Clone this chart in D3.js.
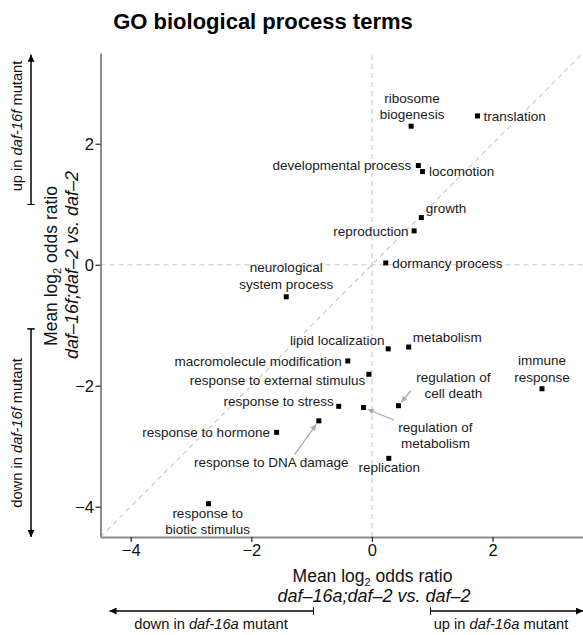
<!DOCTYPE html>
<html>
<head>
<meta charset="utf-8">
<script src="https://d3js.org/d3.v7.min.js"></script>
<style>
  body { margin: 0; background: #fff; }
  svg { font-family: "Liberation Sans", Arial, Helvetica, sans-serif; }
</style>
</head>
<body>
<div id="chart"><svg></svg></div>
<script>
'use strict';

// GO terms and mean log2 odds ratios
var terms = [
  'ribosome biogenesis', 'translation', 'developmental process', 'locomotion',
  'growth', 'reproduction', 'dormancy process', 'neurological system process',
  'lipid localization', 'metabolism', 'macromolecule modification',
  'response to external stimulus', 'immune response', 'response to stress',
  'regulation of metabolism', 'regulation of cell death', 'response to DNA damage',
  'response to hormone', 'replication', 'response to biotic stimulus'
];
// daf-16a;daf-2 vs. daf-2 (x)
var daf16a = [0.65, 1.75, 0.77, 0.84, 0.82, 0.70, 0.23, -1.42, 0.27, 0.61, -0.40,
  -0.05, 2.82, -0.55, -0.14, 0.44, -0.88, -1.58, 0.28, -2.71];
// daf-16f;daf-2 vs. daf-2 (y)
var daf16f = [2.29, 2.46, 1.64, 1.54, 0.78, 0.56, 0.03, -0.53, -1.39, -1.36, -1.59,
  -1.81, -2.05, -2.34, -2.36, -2.33, -2.58, -2.77, -3.20, -3.95];
var tickValues = [-4, -2, 0, 2];

// label placement (pixel offsets from the point, first baseline)
var labelLayout = {
  'ribosome biogenesis': { lines: ['ribosome', 'biogenesis'], anchor: 'middle', dx: 1, dy: -23.5 },
  'translation': { anchor: 'start', dx: 6, dy: 4.9 },
  'developmental process': { anchor: 'end', dx: -7, dy: 4.9 },
  'locomotion': { anchor: 'start', dx: 6.5, dy: 4.9 },
  'growth': { anchor: 'start', dx: 4.4, dy: -5 },
  'reproduction': { anchor: 'end', dx: -5.7, dy: 5.2 },
  'dormancy process': { anchor: 'start', dx: 6.5, dy: 4.9 },
  'neurological system process': { lines: ['neurological', 'system process'], anchor: 'middle', dx: 0, dy: -25 },
  'lipid localization': { anchor: 'end', dx: -3.7, dy: -3.4 },
  'metabolism': { anchor: 'start', dx: 4, dy: -4.7 },
  'macromolecule modification': { anchor: 'end', dx: -6, dy: 4.9 },
  'response to external stimulus': { anchor: 'end', dx: -3.6, dy: 10.6 },
  'immune response': { lines: ['immune', 'response'], anchor: 'middle', dx: 0, dy: -23.7 },
  'response to stress': { anchor: 'end', dx: -5, dy: -0.8 },
  'regulation of metabolism': { lines: ['regulation of', 'metabolism'], anchor: 'middle', dx: 72, dy: 24.2,
    arrow: [30.7, 12.7] },
  'regulation of cell death': { lines: ['regulation of', 'cell death'], anchor: 'middle', dx: 55, dy: -24.1,
    arrow: [12.4, -15] },
  'response to DNA damage': { anchor: 'middle', dx: -47.5, dy: 46.3, arrow: [-24.3, 33.7] },
  'response to hormone': { anchor: 'end', dx: -6.7, dy: 4.9 },
  'replication': { anchor: 'middle', dx: 0.4, dy: 13.5 },
  'response to biotic stimulus': { lines: ['response to', 'biotic stimulus'], anchor: 'middle', dx: -0.8, dy: 13.9 }
};

var width = 583;
var height = 635;
var xRange = [100.5, 583];
var yRange = [537, 53];
var lineH = 16.7;

var svg = d3.select('#chart').select('svg')
  .attr('width', width)
  .attr('height', height);

var x = d3.scaleLinear().domain([-4.5, 3.5]).range(xRange);
var y = d3.scaleLinear().domain([-4.5, 3.5]).range(yRange);

var defs = svg.append('defs');
function head(id, color, len, wid) {
  defs.append('marker')
    .attr('id', id)
    .attr('viewBox', '0 0 10 10')
    .attr('refX', 10).attr('refY', 5)
    .attr('markerUnits', 'userSpaceOnUse')
    .attr('markerWidth', len).attr('markerHeight', wid)
    .attr('orient', 'auto')
    .append('path').attr('d', 'M0,0L10,5L0,10Z').attr('fill', color);
}
head('headBlack', '#000', 9, 7);
head('headGrey', '#aaa', 8, 6);
defs.append('marker')
  .attr('id', 'bar')
  .attr('viewBox', '0 0 2 10')
  .attr('refX', 1).attr('refY', 5)
  .attr('markerUnits', 'userSpaceOnUse')
  .attr('markerWidth', 1.5).attr('markerHeight', 8)
  .attr('orient', 'auto')
  .append('rect').attr('width', 2).attr('height', 10).attr('fill', '#000');

// title
svg.append('text')
  .attr('x', 263).attr('y', 29)
  .attr('text-anchor', 'middle')
  .style('font-size', '22px').style('font-weight', 'bold')
  .text('GO biological process terms');

// reference lines
var refs = svg.append('g').attr('class', 'refs')
  .style('stroke', '#c8c8c8').style('stroke-dasharray', '5,4').style('stroke-width', 1.1);
refs.append('line').attr('x1', x(0)).attr('x2', x(0)).attr('y1', y(-4.5)).attr('y2', y(3.5));
refs.append('line').attr('x1', x(-4.5)).attr('x2', x(3.5)).attr('y1', y(0)).attr('y2', y(0));
refs.append('line').attr('x1', x(-4.5)).attr('x2', x(3.5)).attr('y1', y(-4.5)).attr('y2', y(3.5));

// axes
var fmt = function (d) { return d < 0 ? '\u2212' + Math.abs(d) : d; };
var xAxis = svg.append('g')
  .attr('transform', 'translate(0,' + yRange[0] + ')')
  .call(d3.axisBottom(x).tickValues(tickValues).tickSize(5).tickSizeOuter(0).tickPadding(2.5).tickFormat(fmt));
var yAxis = svg.append('g')
  .attr('transform', 'translate(' + xRange[0] + ',0)')
  .call(d3.axisLeft(y).tickValues(tickValues).tickSize(5).tickSizeOuter(0).tickPadding(1.5).tickFormat(fmt));
[xAxis, yAxis].forEach(function (a) {
  a.select('.domain').attr('stroke', '#8c8c8c').attr('stroke-width', 2);
  a.selectAll('.tick line').attr('stroke', '#333').attr('stroke-width', 1.3);
  a.selectAll('.tick text').attr('fill', '#111').style('font-size', '16.5px').style('font-family', null);
  a.attr('font-family', null).attr('font-size', null);
});

// axis titles
function logTitle(sel) {
  sel.append('tspan').text('Mean log');
  sel.append('tspan').attr('dy', 4).style('font-size', '11px').text('2');
  sel.append('tspan').attr('dy', -4).text(' odds ratio');
}
var xt = svg.append('text').attr('x', 372.5).attr('y', 581.5)
  .attr('text-anchor', 'middle').style('font-size', '17.5px').attr('fill', '#111');
logTitle(xt);
svg.append('text').attr('x', 374).attr('y', 602)
  .attr('text-anchor', 'middle').style('font-size', '18px').style('font-style', 'italic').attr('fill', '#111')
  .text('daf\u201316a;daf\u20132 vs. daf\u20132');

var yt = svg.append('text').attr('transform', 'translate(56.5,266) rotate(-90)')
  .attr('text-anchor', 'middle').style('font-size', '17.5px').attr('fill', '#111');
logTitle(yt);
svg.append('text').attr('transform', 'translate(78,265) rotate(-90)')
  .attr('text-anchor', 'middle').style('font-size', '18px').style('font-style', 'italic').attr('fill', '#111')
  .text('daf\u201316f;daf\u20132 vs. daf\u20132');

// direction arrows
var dirArrows = [
  { from: [x(-0.97), 611], to: [x(-4.35), 611], label: ['down in ', 'daf-16a', ' mutant'], at: [211, 629], rot: 0 },
  { from: [x(0.97), 611], to: [x(3.5), 611], label: ['up in ', 'daf-16a', ' mutant'], at: [501, 629], rot: 0 },
  { from: [31, y(1.0)], to: [31, y(3.47)], label: ['up in ', 'daf-16f', ' mutant'], at: [22, 126], rot: -90 },
  { from: [31, y(-1.06)], to: [31, y(-4.5)], label: ['down in ', 'daf-16f', ' mutant'], at: [22, 433], rot: -90 }
];
dirArrows.forEach(function (a) {
  svg.append('line')
    .attr('x1', a.from[0]).attr('y1', a.from[1]).attr('x2', a.to[0]).attr('y2', a.to[1])
    .attr('stroke', '#000').attr('stroke-width', 1.5)
    .attr('marker-start', 'url(#bar)').attr('marker-end', 'url(#headBlack)');
  var t = svg.append('text')
    .attr('transform', 'translate(' + a.at[0] + ',' + a.at[1] + ') rotate(' + a.rot + ')')
    .attr('text-anchor', 'middle').style('font-size', '14.7px').attr('fill', '#111');
  a.label.forEach(function (s, i) {
    t.append('tspan').style('font-style', i === 1 ? 'italic' : null).text(s);
  });
});

// points
var data = terms.map(function (t, i) { return { term: t, x: daf16a[i], y: daf16f[i] }; });

var pointer = svg.append('g').attr('class', 'pointers');
data.forEach(function (d) {
  var l = labelLayout[d.term];
  if (!l.arrow) return;
  var px = x(d.x), py = y(d.y);
  var ax = l.arrow[0], ay = l.arrow[1];
  var len = Math.sqrt(ax * ax + ay * ay);
  pointer.append('line')
    .attr('x1', px + ax).attr('y1', py + ay)
    .attr('x2', px + ax / len * 4.5).attr('y2', py + ay / len * 4.5)
    .attr('stroke', '#aaa').attr('stroke-width', 1.3)
    .attr('marker-end', 'url(#headGrey)');
});

svg.append('g').attr('class', 'points')
  .selectAll('rect').data(data).enter().append('rect')
  .attr('x', function (d) { return x(d.x) - 2.5; })
  .attr('y', function (d) { return y(d.y) - 2.5; })
  .attr('width', 5).attr('height', 5)
  .attr('fill', '#000');

var labels = svg.append('g').attr('class', 'labels')
  .selectAll('text').data(data).enter().append('text')
  .attr('text-anchor', function (d) { return labelLayout[d.term].anchor; })
  .style('font-size', '13.5px')
  .attr('fill', '#1a1a1a');
labels.each(function (d) {
  var l = labelLayout[d.term];
  var lines = l.lines || [d.term];
  var px = x(d.x) + l.dx;
  var py = y(d.y) + l.dy;
  var sel = d3.select(this);
  lines.forEach(function (s, i) {
    sel.append('tspan').attr('x', px).attr('y', py + i * lineH).text(s);
  });
});
</script>
</body>
</html>
